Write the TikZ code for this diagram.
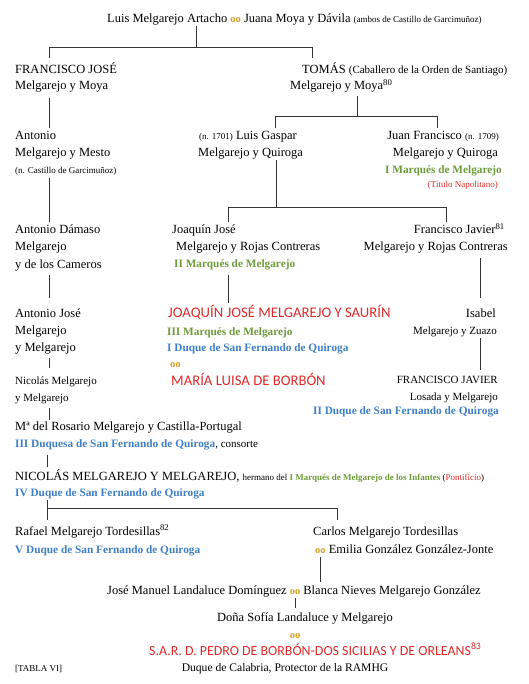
\documentclass[tikz,border=0pt]{standalone}
\usepackage{fontspec}
\setmainfont{Liberation Serif}
\newfontfamily\capsans{Carlito}
\definecolor{ooGold}{HTML}{D4A020}
\definecolor{tgreen}{HTML}{6E9B3A}
\definecolor{tblue}{HTML}{3E80C8}
\definecolor{tred}{HTML}{E12B2B}
\definecolor{lncol}{HTML}{333333}
\newcommand\oo{{\color{ooGold}\bfseries\fontsize{10.5}{12}\selectfont oo}}
\newcommand\smtxt[1]{{\fontsize{9}{11}\selectfont #1}}
\begin{document}
\begin{tikzpicture}[x=1pt,y=-1pt,
  t/.style={inner sep=0pt, anchor=base west, font=\fontsize{12.5}{15}\selectfont},
  tr/.style={inner sep=0pt, anchor=base east, font=\fontsize{12.5}{15}\selectfont},
  tc/.style={inner sep=0pt, anchor=base, font=\fontsize{12.5}{15}\selectfont},
  smaller/.style={font=\fontsize{11}{13}\selectfont},
  small9/.style={font=\fontsize{9}{11}\selectfont},
  grn/.style={text=tgreen, font=\fontsize{11.3}{13}\selectfont\bfseries},
  blu/.style={text=tblue, font=\fontsize{11.3}{13}\selectfont\bfseries},
  redsans/.style={text=tred, font=\capsans\fontsize{14.7}{16}\selectfont},
  ln/.style={draw=lncol, line width=0.8pt}]
\useasboundingbox[fill=white] (0,0) rectangle (529,684);

% ---- texts ----
\node[t] (top) at (107,23) {Luis Melgarejo Artacho \oo\ Juana Moya y Dávila \smtxt{(ambos de Castillo de Garcimuñoz)}};

\node[t] (fj1) at (15,74) {FRANCISCO JOSÉ};
\node[t] (fj2) at (15,90) {Melgarejo y Moya};
\node[t] (to1) at (302,74) {TOMÁS {\fontsize{11}{13}\selectfont (Caballero de la Orden de Santiago)}};
\node[t] (to2) at (290,90) {Melgarejo y Moya\textsuperscript{80}};

\node[t] (an1) at (15,140) {Antonio};
\node[t] (an2) at (15,157) {Melgarejo y Mesto};
\node[t, small9] (an3) at (15,174) {(n. Castillo de Garcimuñoz)};

\node[t] (lg1) at (199,140) {\smtxt{(n. 1701)} Luis Gaspar};
\node[t] (lg2) at (198,157) {Melgarejo y Quiroga};

\node[tr] (jf1) at (499,140) {Juan Francisco \smtxt{(n. 1709)}};
\node[tr] (jf2) at (498,157) {Melgarejo y Quiroga};
\node[tr, grn] (jf3) at (502,174) {I Marqués de Melgarejo};
\node[tr, small9, text=tred] (jf4) at (498,188) {(Título Napolitano)};

\node[t] (ad1) at (15,234) {Antonio Dámaso};
\node[t] (ad2) at (15,251) {Melgarejo};
\node[t] (ad3) at (15,268) {y de los Cameros};

\node[t] (jj1) at (172,234) {Joaquín José};
\node[t] (jj2) at (176,251) {Melgarejo y Rojas Contreras};
\node[t, grn] (jj3) at (174,267) {II Marqués de Melgarejo};

\node[tr] (fx1) at (505,234) {Francisco Javier\textsuperscript{81}};
\node[tr] (fx2) at (508,251) {Melgarejo y Rojas Contreras};

\node[t] (aj1) at (15,317) {Antonio José};
\node[t] (aj2) at (15,334) {Melgarejo};
\node[t] (aj3) at (15,351) {y Melgarejo};
\node[t, smaller] (nm1) at (15,384) {Nicolás Melgarejo};
\node[t, smaller] (nm2) at (15,401) {y Melgarejo};

\node[t, redsans] (jm1) at (168,317) {JOAQUÍN JOSÉ MELGAREJO Y SAURÍN};
\node[t, grn] (jm2) at (167,335) {III Marqués de Melgarejo};
\node[t, blu] (jm3) at (167,351) {I Duque de San Fernando de Quiroga};
\node[t] (jm4) at (170,367) {\oo};
\node[t, redsans] (ml) at (171,385) {MARÍA LUISA DE BORBÓN};

\node[tr] (is1) at (496,317) {Isabel};
\node[tr, smaller] (is2) at (497,334) {Melgarejo y Zuazo};
\node[tr, smaller] (fv1) at (498,383) {FRANCISCO JAVIER};
\node[tr, smaller] (fv2) at (498,400) {Losada y Melgarejo};
\node[tr, blu] (fv3) at (499,414) {II Duque de San Fernando de Quiroga};

\node[t] (mr1) at (15,430) {Mª del Rosario Melgarejo y Castilla-Portugal};
\node[t] (mr2) at (15,447) {{\color{tblue}\bfseries\fontsize{11.3}{13}\selectfont III Duquesa de San Fernando de Quiroga}{\fontsize{11}{13}\selectfont, consorte}};

\node[t] (ni1) at (15,480) {NICOLÁS MELGAREJO Y MELGAREJO, {\fontsize{9}{11}\selectfont hermano del {\color{tgreen}\bfseries I Marqués de Melgarejo de los Infantes} ({\color{tred}Pontificio})}};
\node[t, blu] (ni2) at (15,496) {IV Duque de San Fernando de Quiroga};

\node[t] (ra1) at (15,535) {Rafael Melgarejo Tordesillas\textsuperscript{82}};
\node[t, blu] (ra2) at (15,553) {V Duque de San Fernando de Quiroga};
\node[t] (ca1) at (313,535) {Carlos Melgarejo Tordesillas};
\node[t] (ca2) at (315,553) {\oo\ Emilia González González-Jonte};

\node[t] (jml) at (107,594) {José Manuel Landaluce Domínguez \oo\ Blanca Nieves Melgarejo González};
\node[t] (ds) at (217,621) {Doña Sofía Landaluce y Melgarejo};
\node[tc] (oo3) at (295,638) {\oo};
\node[t, redsans, font=\capsans\fontsize{13.9}{16}\selectfont] (sar) at (149,655) {S.A.R. D. PEDRO DE BORBÓN-DOS SICILIAS Y DE ORLEANS\textsuperscript{83}};
\node[tc, font=\fontsize{11.6}{14}\selectfont] (dc) at (285,671) {Duque de Calabria, Protector de la RAMHG};
\node[t, small9] (tab) at (15,671) {[TABLA VI]};

% ---- connectors ----
\draw[ln] (top.south -| 196,0) coordinate (s0) -- (196,47) coordinate (j0);
\draw[ln] (49,58) coordinate (e0a) -- (49,47) -- (312,47) -- (312,58) coordinate (e0b);
\draw[ln] (49,98) coordinate (s1) -- (49,128) coordinate (e1);
\draw[ln] (357,96) coordinate (s2) -- (357,116) coordinate (j2);
\draw[ln] (275,128) coordinate (e2a) -- (275,116) -- (437,116) -- (437,128) coordinate (e2b);
\draw[ln] (49,178) coordinate (s3) -- (49,222) coordinate (e3);
\draw[ln] (276,160) coordinate (s4) -- (276,207) coordinate (j4);
\draw[ln] (228,222) coordinate (e4a) -- (228,207) -- (446,207) -- (446,222) coordinate (e4b);
\draw[ln] (49,275) coordinate (s5) -- (49,298) coordinate (e5);
\draw[ln] (228,275) coordinate (s6) -- (228,303) coordinate (e6);
\draw[ln] (480,258) coordinate (s7) -- (480,298) coordinate (e7);
\draw[ln] (49,358) coordinate (s8) -- (49,368) coordinate (e8);
\draw[ln] (480,338) coordinate (s9) -- (480,370) coordinate (e9);
\draw[ln] (49,408) coordinate (s10) -- (49,420) coordinate (e10);
\draw[ln] (47,455) coordinate (s11) -- (47,467) coordinate (e11);
\draw[ln] (47,500) coordinate (s12) -- (47,508) coordinate (j12);
\draw[ln] (47,520) coordinate (e12a) -- (47,508) -- (337,508) -- (337,520) coordinate (e12b);
\draw[ln] (320,557) coordinate (s13) -- (320,582) coordinate (e13);
\draw[ln] (295,598) coordinate (s14) -- (295,608) coordinate (e14);
\end{tikzpicture}
\end{document}
